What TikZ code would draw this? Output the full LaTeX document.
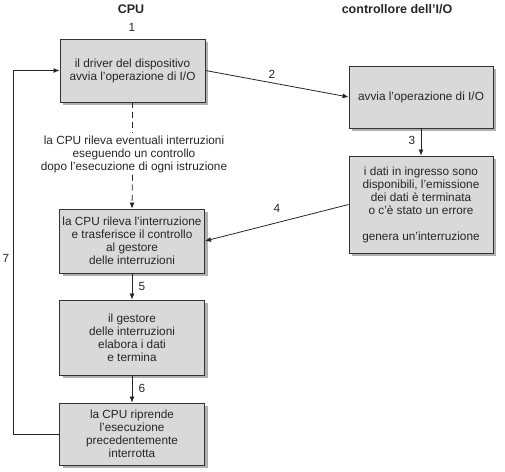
\documentclass[tikz,border=0pt]{standalone}
\usepackage{fontspec}
\setmainfont{Liberation Sans}
\usetikzlibrary{arrows.meta,shadows}
\definecolor{boxfill}{HTML}{D9D9D9}
\definecolor{shadowc}{HTML}{B0B0B0}
\definecolor{edge}{HTML}{333333}
\begin{document}
\begin{tikzpicture}[x=1pt,y=-1pt,
  box/.style={draw=edge,line width=0.9pt,fill=boxfill,minimum width=145pt,align=center,
    font=\fontsize{11.8}{13}\selectfont,text=black!85,inner sep=0pt,
    drop shadow={shadow xshift=3pt,shadow yshift=-3pt,fill=shadowc,opacity=1}},
  conn/.style={draw=black!85,line width=0.8pt,-{Latex[length=6pt,width=5pt]}},
  dashln/.style={draw=black!85,line width=0.8pt,dash pattern=on 6pt off 4pt},
  lbl/.style={font=\fontsize{11.8}{13}\selectfont,text=black!85},
  head/.style={font=\bfseries\fontsize{12.5}{13}\selectfont,text=black!85}]
\useasboundingbox (0,0) rectangle (505,471);
\node[head] (hcpu) at (131,9) {CPU};
\node[head] (hio) at (397,9) {controllore dell’I/O};
\node[lbl] (n1) at (132,27) {1};
\node[box,minimum height=63pt] (b1) at (132.5,70.5) {il driver del dispositivo\\avvia l’operazione di I/O};
\node[box,minimum width=144pt,minimum height=62pt] (io1) at (421,97) {avvia l’operazione di I/O};
\node[box,minimum width=144pt,minimum height=97pt] (io2) at (421,204.5) {i dati in ingresso sono\\disponibili, l’emissione\\dei dati è terminata\\o c’è stato un errore\\[13pt]genera un’interruzione};
\node[box,minimum height=64pt] (b3) at (132,241) {la CPU rileva l’interruzione\\e trasferisce il controllo\\al gestore\\delle interruzioni};
\node[box,minimum height=75pt] (b4) at (132,337.5) {il gestore\\delle interruzioni\\elabora i dati\\e termina};
\node[box,minimum height=62pt] (b5) at (132,434) {la CPU riprende\\l’esecuzione\\precedentemente\\interrotta};
\node[align=center,font=\fontsize{11.8}{13}\selectfont,text=black!85,inner sep=2pt] (det) at (134,154)
  {la CPU rileva eventuali interruzioni\\eseguendo un controllo\\dopo l’esecuzione di ogni istruzione};
\draw[dashln] (b1.south) -- (b1.south |- det.north);
\draw[conn,dashln] (b1.south |- det.south) -- (b3.north);
\draw[conn] (b1.east) -- (io1.west);
\draw[conn] (io1.south) -- (io2.north);
\draw[conn] (io2.west) -- (b3.east);
\draw[conn] (b3.south) -- (b4.north);
\draw[conn] (b4.south) -- (b5.north);
\coordinate (lc) at (13.5,434);
\draw[conn] (b5.west) -- (lc) |- (b1.west);
\node[lbl] (n2) at (272,74) {2};
\node[lbl] (n3) at (412,140) {3};
\node[lbl] (n4) at (277,208) {4};
\node[lbl] (n5) at (142,286) {5};
\node[lbl] (n6) at (142,388) {6};
\node[lbl] (n7) at (6,258) {7};
\end{tikzpicture}
\end{document}
